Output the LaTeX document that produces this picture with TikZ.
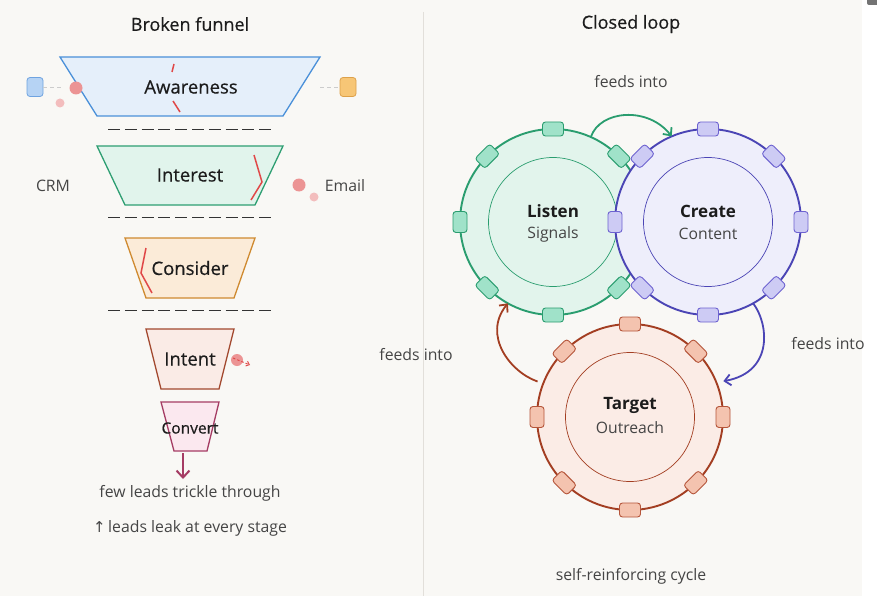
\documentclass[tikz,border=0pt]{standalone}
\usepackage{fontspec}
\setmainfont{Open Sans}
\newfontfamily\medfont[FakeBold=0.5]{Open Sans}
\newfontfamily\symfont{DejaVu Sans}
\usetikzlibrary{arrows.meta,calc}
\definecolor{bg}{HTML}{F9F8F5}
\definecolor{txt}{HTML}{1C1C1C}
\definecolor{subtxt}{HTML}{454545}
\definecolor{divc}{HTML}{E2DFDA}
\definecolor{crackc}{HTML}{E04848}
\definecolor{leakc}{HTML}{EC9494}
\definecolor{leakl}{HTML}{F3BDBD}
\definecolor{awS}{HTML}{4A90D9}\definecolor{awF}{HTML}{E5EFFA}
\definecolor{inS}{HTML}{2E9E72}\definecolor{inF}{HTML}{E1F4EC}
\definecolor{coS}{HTML}{CF8A30}\definecolor{coF}{HTML}{FBEBD8}
\definecolor{ntS}{HTML}{A2482E}\definecolor{ntF}{HTML}{FAEBE6}
\definecolor{cvS}{HTML}{A53C64}\definecolor{cvF}{HTML}{FBE8EF}
\definecolor{crmF}{HTML}{B6D3F4}\definecolor{crmS}{HTML}{6FA3E0}
\definecolor{mailF}{HTML}{F7C676}\definecolor{mailS}{HTML}{DDA14A}
\definecolor{gS}{HTML}{2A9D6F}\definecolor{gF}{HTML}{E2F4EC}\definecolor{gT}{HTML}{A0E2C9}
\definecolor{pS}{HTML}{4B45B5}\definecolor{pF}{HTML}{EEEEFB}\definecolor{pT}{HTML}{CDCBF4}\definecolor{pTS}{HTML}{6D62D0}
\definecolor{rS}{HTML}{A33E22}\definecolor{rF}{HTML}{FBECE6}\definecolor{rT}{HTML}{F4C3AF}\definecolor{rTS}{HTML}{B5553A}
\tikzset{
  title/.style={font=\medfont\fontsize{18}{21}\selectfont, text=txt},
  stage/.style={font=\medfont\fontsize{18.5}{22}\selectfont, text=txt},
  small/.style={font=\fontsize{15.8}{19}\selectfont, text=subtxt},
  funnel/.style={line width=1.3pt, line join=miter},
  crack/.style={draw=crackc, line width=1.5pt},
  sep/.style={draw=black!80, line width=0.9pt, dash pattern=on 12pt off 4.8pt},
  ring/.style={circle, minimum size=186pt, inner sep=0pt, outer sep=0pt, line width=1.9pt},
  inring/.style={circle, minimum size=129pt, inner sep=0pt, outer sep=0pt, line width=0.7pt},
  tab/.style={rectangle, rounded corners=3pt, minimum width=21pt, minimum height=14pt, inner sep=0pt, line width=0.9pt},
  bigl/.style={font=\bfseries\fontsize{17}{20}\selectfont, text=txt},
  subl/.style={font=\fontsize{15.7}{19}\selectfont, text=subtxt},
  loopar/.style={line width=1.8pt, -{Straight Barb[length=6pt,width=11pt]}},
}
\begin{document}
\begin{tikzpicture}[x=1pt,y=-1pt]
\useasboundingbox (0,0) rectangle (877,596);
\fill[bg] (0,0) rectangle (862,596);
\fill[white] (862,0) rectangle (877,596);
\fill[black!55, rounded corners=2pt] (867,-4) rectangle (882,5);
\draw[divc, line width=0.9pt] (423,12) -- (423,596);

\node[title] (t1) at (190,24) {Broken funnel};
\node[title] (t2) at (631,24) {Closed loop};

% funnel stages
\draw[funnel, draw=awS, fill=awF] (60,57) -- (320,57) -- (283,116) -- (97,116) -- cycle;
\draw[funnel, draw=inS, fill=inF] (97,146) -- (283,146) -- (255,205) -- (125,205) -- cycle;
\draw[funnel, draw=coS, fill=coF] (125,238) -- (255,238) -- (234,298) -- (146,298) -- cycle;
\draw[funnel, draw=ntS, fill=ntF] (146,329) -- (234,329) -- (219,389) -- (161,389) -- cycle;
\draw[funnel, draw=cvS, fill=cvF] (161,402) -- (219,402) -- (207,451) -- (174,451) -- cycle;

\node[stage] (awareness) at (191,87) {Awareness};
\node[stage] (interest) at (190,175) {Interest};
\node[stage] (consider) at (190,268) {Consider};
\node[stage] (intent) at (190,359) {Intent};
\node[font=\medfont\fontsize{15.5}{18}\selectfont, text=txt] (convert) at (190,428) {Convert};

% cracks
\draw[crack] (174,64) -- (172,72);
\draw[crack] (173,101) -- (180,112);
\draw[crack] (254,155) -- (262,182) -- (251,200);
\draw[crack] (146,248) -- (141,273) -- (152,293);

% separators
\draw[sep] (108,129) -- (273,129);
\draw[sep] (108,217) -- (273,217);
\draw[sep] (108,310) -- (273,310);

% side tools
\node[rectangle, rounded corners=3pt, minimum width=16pt, minimum height=19pt, draw=crmS, fill=crmF, line width=0.8pt] (crm) at (35,87) {};
\node[rectangle, rounded corners=3pt, minimum width=16pt, minimum height=19pt, draw=mailS, fill=mailF, line width=0.8pt] (mail) at (348,87) {};
\draw[black!20, line width=0.9pt, dash pattern=on 4pt off 3pt] (crm.east) -- (62,87);
\draw[black!20, line width=0.9pt, dash pattern=on 4pt off 3pt] (320,87) -- (mail.west);
\node[small] (crmlbl) at (53,186) {CRM};
\node[small] (maillbl) at (345,186) {Email};

% leak drops
\fill[leakc] (76,88) circle (6.5pt);
\fill[leakl] (60,103) circle (4.5pt);
\fill[leakc] (299,185) circle (6.5pt);
\fill[leakl] (314,197) circle (4.5pt);
\fill[leakc] (237,360) circle (6pt);
\draw[crackc, line width=0.9pt, dash pattern=on 2.5pt off 2pt, -{Straight Barb[length=3pt,width=5pt]}] (233,358) -- (250,365);

% convert arrow
\coordinate (cvbot) at (183,453);
\node[small] (few) at (190,493) {few leads trickle through};
\draw[cvS, line width=2pt, -{Straight Barb[length=7pt,width=13pt]}] (cvbot) -- (183,479);
\node[small] (leak) at (190,528) {{\symfont\fontsize{15}{18}\selectfont ↑}\,leads leak at every stage};

% closed loop
\node[ring, draw=gS, fill=gF] (listen) at (553,222) {};
\node[inring, draw=gS] (listenin) at (553,222) {};
\foreach \a in {0,45,...,315} \node[tab, draw=gS, fill=gT, rotate=\a-90] (listen-tab-\a) at (listen.\a) {};
\node[bigl] (listenlbl) at (553,211) {Listen};
\node[subl] (listensub) at (553,234) {Signals};

\node[ring, draw=pS, fill=pF] (create) at (708,222) {};
\node[inring, draw=pS] (createin) at (708,222) {};
\foreach \a in {0,45,...,315} \node[tab, draw=pTS, fill=pT, rotate=\a-90] (create-tab-\a) at (create.\a) {};
\node[bigl] (createlbl) at (708,211) {Create};
\node[subl] (createsub) at (708,234) {Content};

\node[ring, draw=rS, fill=rF] (target) at (630,417) {};
\node[inring, draw=rS] (targetin) at (630,417) {};
\foreach \a in {0,45,...,315} \node[tab, draw=rTS, fill=rT, rotate=\a-90] (target-tab-\a) at (target.\a) {};
\node[bigl] (targetlbl) at (630,405) {Target};
\node[subl] (targetsub) at (630,428) {Outreach};

% loop arrows
\draw[loopar, gS] (listen.66) .. controls (600,110) and (648,106) .. (create.113);
\coordinate (pend) at ($(target.center)+(21:100pt)$);
\draw[loopar, pS] (create.-61.5) .. controls (768,322) and (775,372) .. (pend);
\coordinate (bstart) at ($(target.center)+(159:99pt)$);
\draw[loopar, rS] (bstart) .. controls (510,372) and (482,335) .. (listen.-119);

\node[small] (f1) at (631,82) {feeds into};
\node[small] (f2) at (828,344) {feeds into};
\node[small] (f3) at (416,355) {feeds into};
\node[small] (cyc) at (631,576) {self-reinforcing cycle};
\end{tikzpicture}
\end{document}
